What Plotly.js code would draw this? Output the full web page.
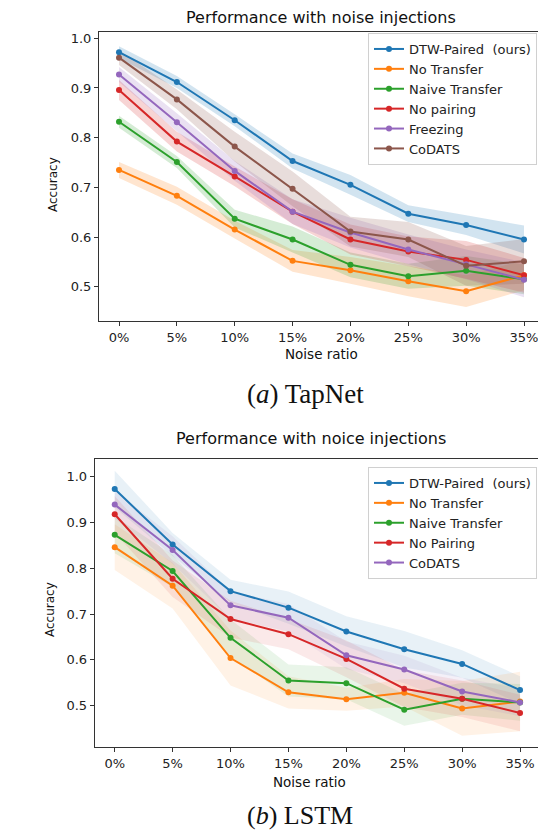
<!DOCTYPE html>
<html>
<head>
<meta charset="utf-8">
<script src="https://cdn.plot.ly/plotly-3.0.1.min.js"></script>
<style>html,body{margin:0;padding:0;background:#fff}#chart{width:538px;height:834px}</style>
</head>
<body>
<div id="chart"></div>
<script>
// ---------- data ----------
const noiseRatios = ["0%", "5%", "10%", "15%", "20%", "25%", "30%", "35%"];

// (a) TapNet
const tapNames = ["DTW-Paired  (ours)", "No Transfer", "Naive Transfer", "No pairing", "Freezing", "CoDATS"];
const tapDTW      = [0.972, 0.912, 0.835, 0.753, 0.705, 0.647, 0.624, 0.595];
const tapNoTrans  = [0.735, 0.683, 0.615, 0.552, 0.533, 0.511, 0.491, 0.523];
const tapNaive    = [0.832, 0.751, 0.637, 0.595, 0.544, 0.521, 0.532, 0.515];
const tapNoPair   = [0.896, 0.792, 0.722, 0.651, 0.595, 0.571, 0.554, 0.523];
const tapFreeze   = [0.927, 0.831, 0.733, 0.651, 0.609, 0.575, 0.545, 0.514];
const tapCoDATS   = [0.961, 0.877, 0.782, 0.697, 0.611, 0.595, 0.542, 0.551];
const tapDTWStd     = [0.012, 0.012, 0.012, 0.015, 0.020, 0.017, 0.020, 0.028];
const tapNoTransStd = [0.016, 0.018, 0.018, 0.022, 0.027, 0.030, 0.032, 0.030];
const tapNaiveStd   = [0.012, 0.012, 0.018, 0.026, 0.025, 0.025, 0.030, 0.030];
const tapNoPairStd  = [0.020, 0.020, 0.020, 0.025, 0.030, 0.030, 0.038, 0.035];
const tapFreezeStd  = [0.015, 0.018, 0.020, 0.025, 0.030, 0.030, 0.030, 0.035];
const tapCoDATSStd  = [0.015, 0.020, 0.030, 0.035, 0.030, 0.035, 0.040, 0.045];

// (b) LSTM
const lstmNames = ["DTW-Paired  (ours)", "No Transfer", "Naive Transfer", "No Pairing", "CoDATS"];
const lstmDTW     = [0.973, 0.852, 0.750, 0.714, 0.662, 0.623, 0.591, 0.534];
const lstmNoTrans = [0.846, 0.762, 0.604, 0.529, 0.514, 0.528, 0.494, 0.509];
const lstmNaive   = [0.873, 0.794, 0.648, 0.555, 0.549, 0.491, 0.515, 0.507];
const lstmNoPair  = [0.918, 0.777, 0.689, 0.656, 0.602, 0.537, 0.515, 0.484];
const lstmCoDATS  = [0.939, 0.840, 0.719, 0.692, 0.610, 0.579, 0.531, 0.507];
const lstmDTWStd     = [0.040, 0.025, 0.025, 0.035, 0.033, 0.040, 0.030, 0.030];
const lstmNoTransStd = [0.050, 0.050, 0.060, 0.035, 0.025, 0.030, 0.060, 0.065];
const lstmNaiveStd   = [0.040, 0.035, 0.040, 0.035, 0.035, 0.035, 0.035, 0.040];
const lstmNoPairStd  = [0.040, 0.040, 0.040, 0.033, 0.040, 0.040, 0.040, 0.040];
const lstmCoDATSStd  = [0.030, 0.030, 0.030, 0.030, 0.030, 0.030, 0.030, 0.030];

// ---------- styling ----------
const colors = ["#1f77b4", "#ff7f0e", "#2ca02c", "#d62728", "#9467bd", "#8c564b"];
function rgba(hex, a) {
  const r = parseInt(hex.slice(1,3),16), g = parseInt(hex.slice(3,5),16), b = parseInt(hex.slice(5,7),16);
  return `rgba(${r},${g},${b},${a})`;
}
const W = 538, H = 834;
const px = x => x / W;
const py = y => 1 - y / H;
const FONT = "DejaVu Sans, sans-serif";

const traces = [];
function addPanel(names, means, stds, xa, ya, alpha, legendId) {
  // bands first so all lines sit above all bands
  means.forEach((m, i) => {
    const up = m.map((v, j) => v + stds[i][j]);
    const lo = m.map((v, j) => v - stds[i][j]);
    traces.push({
      x: noiseRatios.concat(noiseRatios.slice().reverse()),
      y: up.concat(lo.slice().reverse()),
      xaxis: xa, yaxis: ya, type: "scatter", mode: "lines",
      fill: "toself", fillcolor: rgba(colors[i], alpha),
      line: {width: 0, color: "rgba(0,0,0,0)"},
      hoverinfo: "skip", showlegend: false
    });
  });
  means.forEach((m, i) => {
    traces.push({
      x: noiseRatios, y: m, name: names[i],
      xaxis: xa, yaxis: ya, type: "scatter", mode: "lines+markers",
      line: {color: colors[i], width: 2},
      marker: {color: colors[i], size: 6},
      legend: legendId
    });
  });
}
addPanel(tapNames,
  [tapDTW, tapNoTrans, tapNaive, tapNoPair, tapFreeze, tapCoDATS],
  [tapDTWStd, tapNoTransStd, tapNaiveStd, tapNoPairStd, tapFreezeStd, tapCoDATSStd],
  "x", "y", 0.2, "legend");
addPanel(lstmNames,
  [lstmDTW, lstmNoTrans, lstmNaive, lstmNoPair, lstmCoDATS],
  [lstmDTWStd, lstmNoTransStd, lstmNaiveStd, lstmNoPairStd, lstmCoDATSStd],
  "x2", "y2", 0.1, "legend2");

const axisCommon = {
  showgrid: false, zeroline: false, showline: true, linecolor: "#333", linewidth: 1,
  ticks: "outside", ticklen: 4, tickcolor: "#333", tickwidth: 1,
  tickfont: {family: FONT, size: 13, color: "#222"}
};
const legendCommon = {
  xanchor: "right", yanchor: "top", bgcolor: "rgba(255,255,255,0.8)",
  bordercolor: "#d0d0d0", borderwidth: 1,
  font: {family: FONT, size: 13, color: "#222"},
  itemwidth: 30, tracegroupgap: 0
};

const layout = {
  width: W, height: H,
  margin: {l: 0, r: 0, t: 0, b: 0},
  paper_bgcolor: "#fff", plot_bgcolor: "#fff",
  showlegend: true,
  xaxis: Object.assign({}, axisCommon, {
    type: "category", domain: [px(99), 1], range: [-0.3457, 7.242],
    anchor: "y", mirror: true
  }),
  yaxis: Object.assign({}, axisCommon, {
    domain: [py(321), py(32.3)], range: [0.431, 1.012],
    tickvals: [0.5, 0.6, 0.7, 0.8, 0.9, 1.0], tickformat: ".1f",
    anchor: "x", mirror: false
  }),
  xaxis2: Object.assign({}, axisCommon, {
    type: "category", domain: [px(94.7), 1], range: [-0.3457, 7.31],
    anchor: "y2", mirror: true
  }),
  yaxis2: Object.assign({}, axisCommon, {
    domain: [py(747.3), py(459)], range: [0.409, 1.0386],
    tickvals: [0.5, 0.6, 0.7, 0.8, 0.9, 1.0], tickformat: ".1f",
    anchor: "x2", mirror: false
  }),
  legend: Object.assign({}, legendCommon, {x: px(537), y: py(33)}),
  legend2: Object.assign({}, legendCommon, {x: px(537), y: py(467)}),
  annotations: [
    {text: "Performance with noise injections", x: px(320.5), y: py(18), xref: "paper", yref: "paper",
     showarrow: false, xanchor: "center", yanchor: "middle", font: {family: FONT, size: 16, color: "#111"}},
    {text: "Noise ratio", x: px(321), y: py(354), xref: "paper", yref: "paper",
     showarrow: false, xanchor: "center", yanchor: "middle", font: {family: FONT, size: 13.5, color: "#111"}},
    {text: "Accuracy", x: px(53), y: py(185), xref: "paper", yref: "paper", textangle: -90,
     showarrow: false, xanchor: "center", yanchor: "middle", font: {family: FONT, size: 12, color: "#111"}},
    {text: "(<i>a</i>) TapNet", x: px(305), y: py(394), xref: "paper", yref: "paper",
     showarrow: false, xanchor: "center", yanchor: "middle", font: {family: "Liberation Serif, serif", size: 27, color: "#111"}},
    {text: "Performance with noice injections", x: px(311), y: py(439), xref: "paper", yref: "paper",
     showarrow: false, xanchor: "center", yanchor: "middle", font: {family: FONT, size: 16, color: "#111"}},
    {text: "Noise ratio", x: px(309), y: py(782), xref: "paper", yref: "paper",
     showarrow: false, xanchor: "center", yanchor: "middle", font: {family: FONT, size: 13.5, color: "#111"}},
    {text: "Accuracy", x: px(50), y: py(610), xref: "paper", yref: "paper", textangle: -90,
     showarrow: false, xanchor: "center", yanchor: "middle", font: {family: FONT, size: 12, color: "#111"}},
    {text: "(<i>b</i>) LSTM", x: px(300), y: py(815), xref: "paper", yref: "paper",
     showarrow: false, xanchor: "center", yanchor: "middle", font: {family: "Liberation Serif, serif", size: 26, color: "#111"}}
  ]
};

Plotly.newPlot("chart", traces, layout, {displayModeBar: false, staticPlot: true});
</script>
</body>
</html>
